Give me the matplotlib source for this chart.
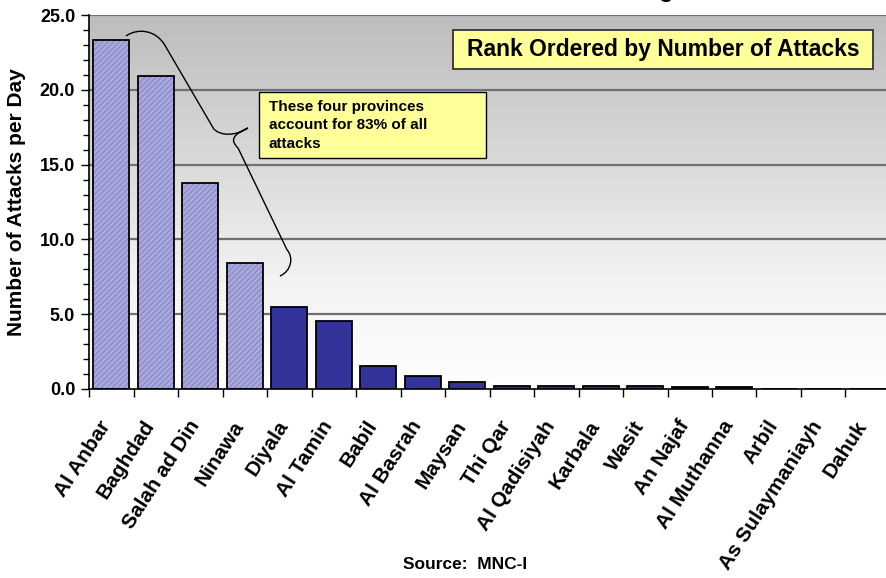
"""Attacks per day by province, rank ordered."""

import matplotlib

matplotlib.use("Agg")

import matplotlib.pyplot as plt
import matplotlib.transforms as mtransforms
import numpy as np
from matplotlib.path import Path
from matplotlib.patches import PathPatch, Rectangle
from matplotlib.ticker import MultipleLocator, FormatStrFormatter

provinces = [
    "Al Anbar", "Baghdad", "Salah ad Din", "Ninawa", "Diyala", "Al Tamin",
    "Babil", "Al Basrah", "Maysan", "Thi Qar", "Al Qadisiyah", "Karbala",
    "Wasit", "An Najaf", "Al Muthanna", "Arbil", "As Sulaymaniayh", "Dahuk",
]
attacks_per_day = [
    23.3, 20.9, 13.8, 8.4, 5.45, 4.55,
    1.55, 0.87, 0.45, 0.22, 0.22, 0.22,
    0.22, 0.12, 0.12, 0.0, 0.0, 0.0,
]
top_four = 4

plt.rcParams["font.family"] = ["Liberation Sans", "DejaVu Sans"]
plt.rcParams["font.weight"] = "bold"
plt.rcParams["hatch.linewidth"] = 0.6

fig = plt.figure(figsize=(8.86, 5.78), dpi=100)
ax = fig.add_axes([0.1005, 0.327, 0.904, 0.647])

n = len(provinces)
x = np.arange(n)
ax.set_xlim(-0.5, n - 0.5)
ax.set_ylim(0, 25)

# grey-to-white background gradient
grad = np.linspace(0, 1, 256).reshape(-1, 1)
bg_cmap = matplotlib.colors.LinearSegmentedColormap.from_list(
    "bg", [(0, "#ffffff"), (0.3, "#f2f2f2"), (0.6, "#dadada"), (1, "#bdbdbd")])
ax.imshow(grad, extent=[-0.5, n - 0.5, 0, 25], aspect="auto", origin="lower",
          cmap=bg_cmap, zorder=0)

for yv in [5, 10, 15, 20, 25]:
    ax.axhline(yv, color="#707070", lw=1.6, zorder=1)

# hatched light bars for the top four, solid navy for the rest
ax.bar(x[:top_four], attacks_per_day[:top_four], width=0.8,
       color="#a8a8dc", edgecolor="#7f7fbf", hatch="//////", lw=0, zorder=2)
ax.bar(x[:top_four], attacks_per_day[:top_four], width=0.8,
       fill=False, edgecolor="black", lw=1.3, zorder=3)
ax.bar(x[top_four:], attacks_per_day[top_four:], width=0.8,
       color="#333399", edgecolor="black", lw=1.3, zorder=3)

ax.yaxis.set_major_locator(MultipleLocator(5))
ax.yaxis.set_minor_locator(MultipleLocator(1))
ax.yaxis.set_major_formatter(FormatStrFormatter("%.1f"))
ax.tick_params(axis="y", which="major", direction="out", length=6,
               width=1, labelsize=13, pad=4)
ax.tick_params(axis="y", which="minor", direction="out", length=4, width=1)
for lbl in ax.get_yticklabels():
    lbl.set_fontweight("bold")

ax.set_xticks(np.arange(n + 1) - 0.5, minor=True)
ax.set_xticks(x)
ax.set_xticklabels(provinces, rotation=57, ha="right", va="center",
                   rotation_mode="anchor", fontsize=15, fontweight="bold")
ax.tick_params(axis="x", which="major", length=0, pad=24)
ax.tick_params(axis="x", which="minor", direction="out", length=6, width=1)
shift = mtransforms.ScaledTranslation(-5 / 100, 0, fig.dpi_scale_trans)
for lbl in ax.get_xticklabels():
    lbl.set_transform(lbl.get_transform() + shift)

for side in ["top", "right"]:
    ax.spines[side].set_visible(False)
ax.spines["left"].set_linewidth(1.2)
ax.spines["bottom"].set_linewidth(1.2)

ax.set_ylabel("Number of Attacks per Day", fontsize=15, fontweight="bold",
              labelpad=10)

# curly brace grouping the top four bars
verts = [
    (0.33, 23.6),
    (0.6, 24.15), (1.0, 24.0), (1.2, 23.0),
    (2.3, 17.4),
    (2.45, 16.9), (2.8, 16.9), (3.07, 17.45),
    (2.75, 17.0), (2.65, 16.7), (2.85, 16.1),
    (3.95, 9.3),
    (4.1, 8.8), (4.05, 7.9), (3.79, 7.55),
]
codes = [Path.MOVETO,
         Path.CURVE4, Path.CURVE4, Path.CURVE4,
         Path.LINETO,
         Path.CURVE4, Path.CURVE4, Path.CURVE4,
         Path.CURVE4, Path.CURVE4, Path.CURVE4,
         Path.LINETO,
         Path.CURVE4, Path.CURVE4, Path.CURVE4]
ax.add_patch(PathPatch(Path(verts, codes), fill=False, lw=1.0,
                       edgecolor="black", zorder=4))

# note box
fig.add_artist(Rectangle((0.2923, 0.7266), 0.2562, 0.1142,
                         transform=fig.transFigure, fc="#ffff99",
                         ec="black", lw=1.0, zorder=5))
fig.text(0.3036, 0.7835, "These four provinces\naccount for 83% of all\nattacks",
         fontsize=11, fontweight="bold", ha="left", va="center",
         linespacing=1.4, zorder=6)

# rank box
fig.add_artist(Rectangle((0.5113, 0.8806), 0.474, 0.0674,
                         transform=fig.transFigure, fc="#ffff99",
                         ec="#333333", lw=1.3, zorder=5))
fig.text(0.7483, 0.9143, "Rank Ordered by Number of Attacks", fontsize=16.5,
         fontweight="bold", ha="center", va="center", zorder=6)

# title cut off by the top edge of the original slide
fig.text(0.76, 1.006, "Province Attack Ranking", fontsize=17,
         fontweight="bold", ha="right", va="baseline")

fig.text(0.525, 0.0225, "Source:  MNC-I", fontsize=12.5, fontweight="bold",
         ha="center", va="center")

fig.savefig("out.png", dpi=100)
